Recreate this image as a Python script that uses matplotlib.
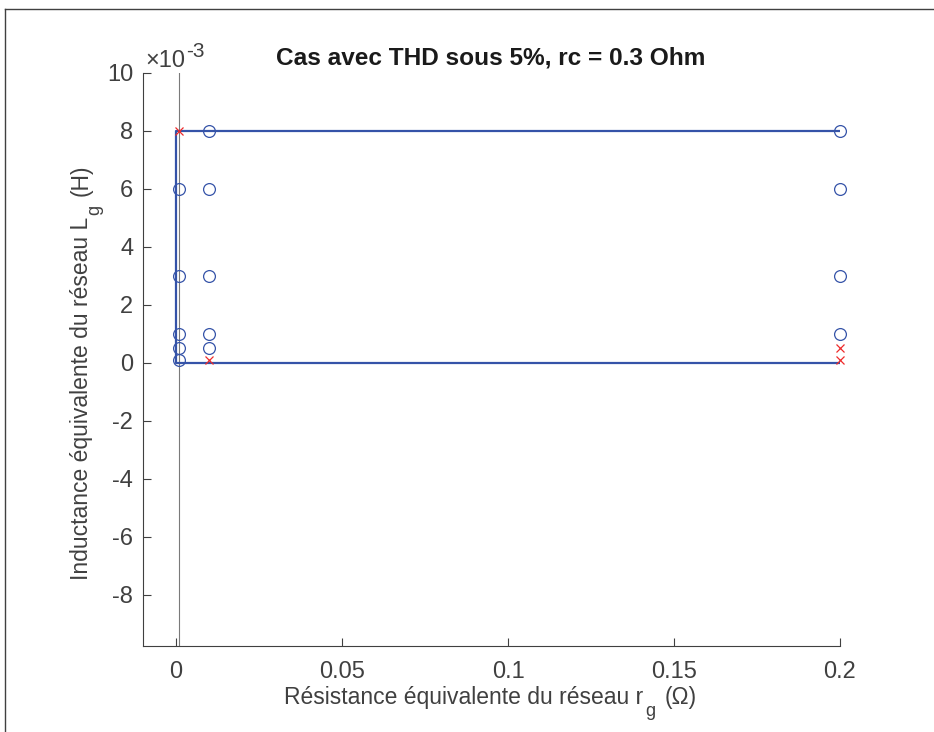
import matplotlib
matplotlib.use("Agg")
import matplotlib.pyplot as plt
from matplotlib.lines import Line2D
from matplotlib.transforms import IdentityTransform
from matplotlib.ticker import FixedLocator

plt.rcParams['font.family'] = ['Liberation Sans', 'DejaVu Sans']
plt.rcParams['axes.unicode_minus'] = False

# valeurs de Lg en mH (axe en x10^-3)
rg_ok = [0.001, 0.001, 0.001, 0.001, 0.001,
         0.01, 0.01, 0.01, 0.01, 0.01,
         0.2, 0.2, 0.2, 0.2]
lg_ok = [6, 3, 1, 0.5, 0.1,
         8, 6, 3, 1, 0.5,
         8, 6, 3, 1]
rg_ko = [0.001, 0.01, 0.2, 0.2]
lg_ko = [8, 0.1, 0.5, 0.1]

# contour de la zone
rg_zone = [0.2, 0.0001, 0.0001, 0.2]
lg_zone = [8, 8, 0, 0]
rg_lim = 0.001

xticks = [0, 0.05, 0.1, 0.15, 0.2]
yticks = [-8, -6, -4, -2, 0, 2, 4, 6, 8, 10]

txt = '#404040'
blue = '#3553a8'
red = '#ee2a2a'
W, H = 934, 732

fig = plt.figure(figsize=(W / 100, H / 100), dpi=100)
ax = fig.add_axes([143 / W, 1 - 646 / H, 697 / W, (646 - 72.7) / H])
renderer = fig.canvas.get_renderer()


def pieces(xc, yc, parts, rot=0, center=True, color=txt, weight='normal'):
    """texte en morceaux (indice bas decale), en pixels"""
    widths = []
    for s, size, dy, gap in parts:
        t = fig.text(0, 0, s, fontsize=size, fontweight=weight)
        widths.append(t.get_window_extent(renderer).width)
        t.remove()
    total = sum(widths) + sum(p[3] for p in parts)
    pos = -total / 2 if center else 0
    for (s, size, dy, gap), w in zip(parts, widths):
        pos += gap
        if rot == 0:
            x, y = xc + pos, yc + dy
        else:
            x, y = xc - dy, yc + pos
        fig.text(x, y, s, fontsize=size, color=color, fontweight=weight,
                 ha='left', va='baseline', rotation=rot,
                 rotation_mode='anchor', transform=IdentityTransform())
        pos += w


ax.axvline(rg_lim, color='#7a7a7a', lw=0.8, zorder=1)
ax.plot(rg_zone, lg_zone, color=blue, lw=1.6, zorder=2)
ax.plot(rg_ok, lg_ok, 'o', ms=8.5, mfc='none', mec=blue, mew=0.9,
        zorder=3, clip_on=False)
ax.plot(rg_ko, lg_ko, 'x', ms=6, color=red, mew=0.9, zorder=3, clip_on=False)

ax.set_xlim(-0.00994, 0.2)
ax.set_ylim(-9.76, 10)
ax.xaxis.set_major_locator(FixedLocator(xticks))
ax.yaxis.set_major_locator(FixedLocator(yticks))
ax.set_xticklabels([f'{v:g}' for v in xticks])
ax.set_yticklabels([f'{v:g}' for v in yticks])

for s in ['top', 'right']:
    ax.spines[s].set_visible(False)
for s in ['left', 'bottom']:
    ax.spines[s].set_color(txt)
    ax.spines[s].set_linewidth(0.8)
ax.tick_params(direction='in', length=6, width=0.8, colors=txt, labelsize=17)
ax.tick_params(axis='x', pad=11)
ax.tick_params(axis='y', pad=7)

# libelles des axes avec indice g
pieces(490, H - 704, [('Résistance équivalente du réseau r', 16.5, 0, 0),
                      ('g', 13, -11.5, 2),
                      ('(Ω)', 16.5, 0, 9)])
pieces(88, H - 372, [('Inductance équivalente du réseau L', 16.5, 0, 0),
                     ('g', 13, -11.5, 2),
                     ('(H)', 16.5, 0, 9)], rot=90)
# facteur d'echelle de l'axe y
pieces(145, H - 67, [('×10', 17, 0, 0), ('-3', 15, 10, 1)], center=False)

pieces(491, H - 65, [('Cas avec THD sous 5%, rc = 0.3 Ohm', 17.6, 0, 0)],
       color='#1a1a1a', weight='bold')

# cadre de la figure
fig.add_artist(Line2D([5 / W, 1], [1 - 9 / H, 1 - 9 / H],
                      transform=fig.transFigure, color='#404040', lw=1))
fig.add_artist(Line2D([5 / W, 5 / W], [0, 1 - 9 / H],
                      transform=fig.transFigure, color='#404040', lw=1))

fig.savefig('out.png', dpi=100)
